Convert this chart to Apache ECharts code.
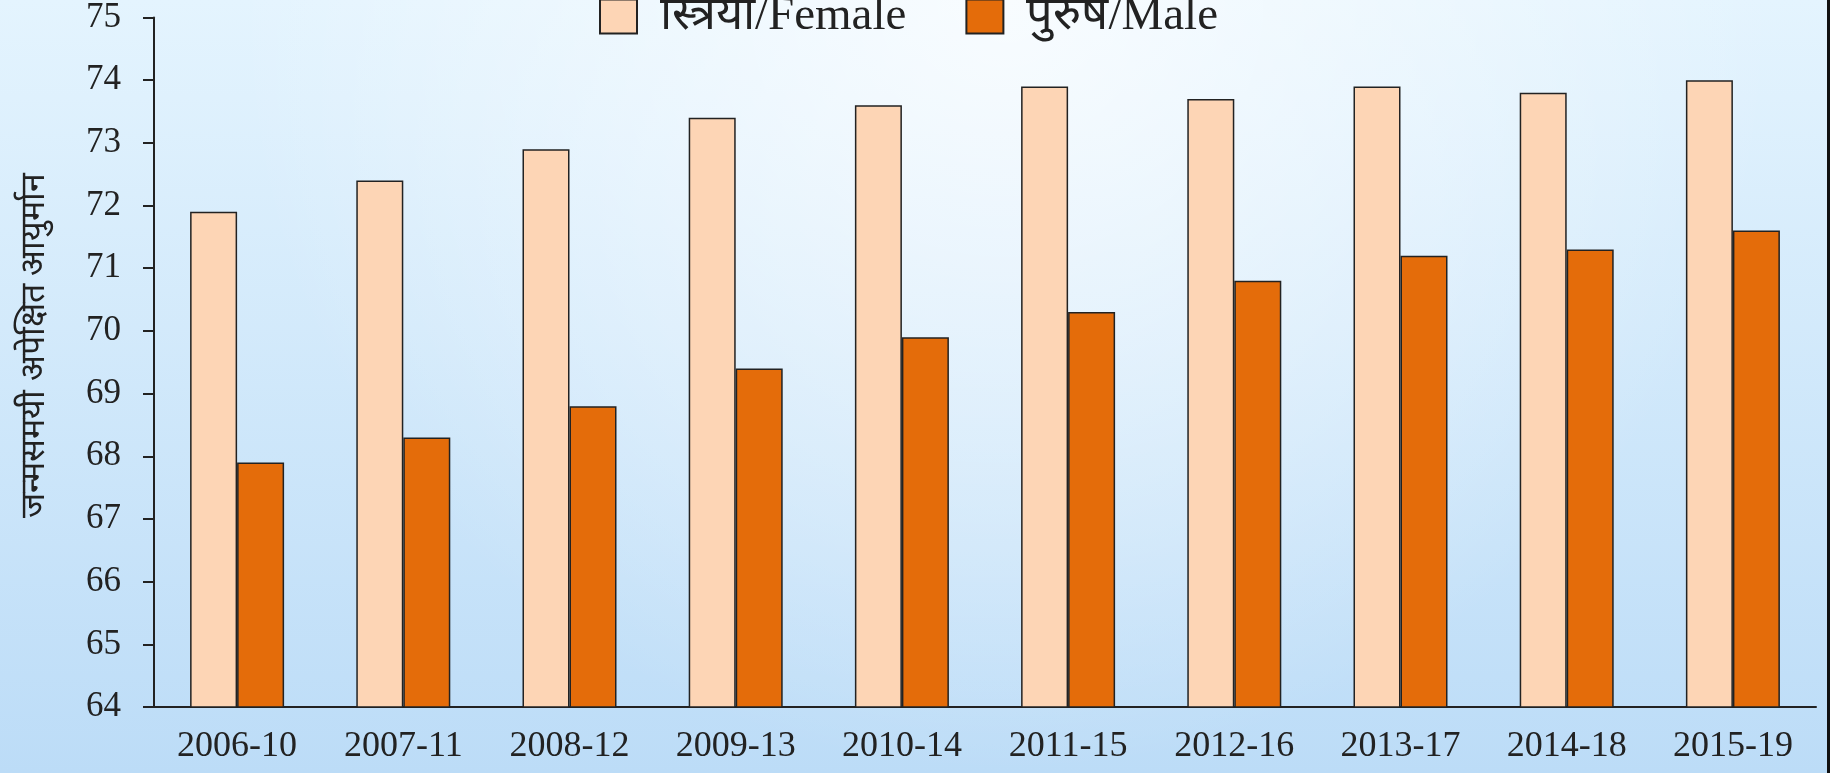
<!DOCTYPE html>
<html>
<head>
<meta charset="utf-8">
<script src="https://cdn.jsdelivr.net/npm/echarts@6/dist/echarts.min.js"></script>
<style>
  html, body { margin: 0; padding: 0; }
  #main { width: 1830px; height: 773px; }
</style>
</head>
<body>
<div id="main"></div>
<script>
// periods (5-year windows)
var periods = ['2006-10', '2007-11', '2008-12', '2009-13', '2010-14',
               '2011-15', '2012-16', '2013-17', '2014-18', '2015-19'];
// life expectancy at birth
var female = [71.9, 72.4, 72.9, 73.4, 73.6, 73.9, 73.7, 73.9, 73.8, 74.0];
var male = [67.9, 68.3, 68.8, 69.4, 69.9, 70.3, 70.8, 71.2, 71.3, 71.6];
var seriesNames = ['स्त्रिया/Female', 'पुरुष/Male'];
var yAxisName = 'जन्मसमयी अपेक्षित आयुर्मान';

var chart = echarts.init(document.getElementById('main'));
var serif = '"Liberation Serif", "DejaVu Serif", serif';
var ink = '#222222';

var option = {
  backgroundColor: {
    type: 'linear', x: 0, y: 0, x2: 0, y2: 1,
    colorStops: [
      { offset: 0, color: '#e4f4fe' },
      { offset: 1, color: '#bcdcf7' }
    ]
  },
  textStyle: { fontFamily: serif },
  legend: {
    top: -7,
    left: 599,
    icon: 'rect',
    itemWidth: 37,
    itemHeight: 34,
    itemGap: 59,
    padding: 0,
    textStyle: { fontSize: 47, color: ink, fontFamily: serif, padding: [0, 0, 0, 18] },
    data: seriesNames
  },
  grid: { left: 154, right: 14, top: 17, bottom: 66 },
  xAxis: {
    type: 'category',
    data: periods,
    axisLine: { lineStyle: { color: ink, width: 2 } },
    axisTick: { alignWithLabel: true, length: 11, lineStyle: { color: ink, width: 2 } },
    axisLabel: { fontSize: 36, color: ink, margin: 22 }
  },
  yAxis: {
    type: 'value',
    min: 64,
    max: 75,
    interval: 1,
    name: yAxisName,
    nameLocation: 'middle',
    nameRotate: 90,
    nameGap: 102,
    nameTextStyle: { fontSize: 34, color: ink, padding: [0, 0, 0, 34] },
    splitLine: { show: false },
    axisLine: { show: true, lineStyle: { color: ink, width: 2 } },
    axisTick: { show: true, length: 11, lineStyle: { color: ink, width: 2 } },
    axisLabel: { fontSize: 35, color: ink, margin: 33 }
  },
  series: [
    {
      name: seriesNames[0],
      type: 'bar',
      data: female,
      barWidth: 47,
      barGap: '0%',
      itemStyle: { color: '#fdd5b5', borderColor: ink, borderWidth: 1.5 }
    },
    {
      name: seriesNames[1],
      type: 'bar',
      data: male,
      barWidth: 47,
      itemStyle: { color: '#e46c0a', borderColor: ink, borderWidth: 1.5 }
    }
  ],
  graphic: [
    {
      // soft highlight near the top centre of the background
      type: 'rect',
      z: -10,
      silent: true,
      shape: { x: 0, y: 0, width: 1830, height: 773 },
      style: {
        fill: {
          type: 'radial', x: 0.55, y: 0, r: 1.0,
          colorStops: [
            { offset: 0, color: 'rgba(255,255,255,0.75)' },
            { offset: 1, color: 'rgba(255,255,255,0)' }
          ]
        }
      }
    },
    {
      type: 'line',
      shape: { x1: 1828.5, y1: 0, x2: 1828.5, y2: 773 },
      style: { stroke: '#111', lineWidth: 3 }
    }
  ]
};
chart.setOption(option);
</script>
</body>
</html>
